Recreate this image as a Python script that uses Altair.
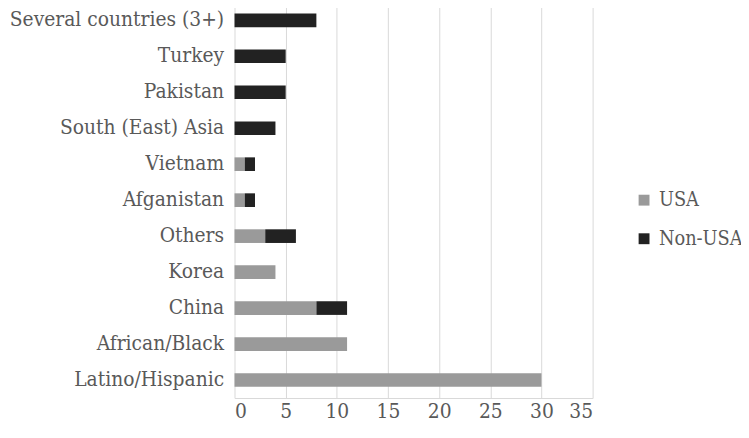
import altair as alt
import pandas as pd

categories = ["Several countries (3+)", "Turkey", "Pakistan", "South (East) Asia",
              "Vietnam", "Afganistan", "Others", "Korea", "China",
              "African/Black", "Latino/Hispanic"]
usa = [0, 0, 0, 0, 1, 1, 3, 4, 8, 11, 30]
non_usa = [8, 5, 5, 4, 1, 1, 3, 0, 3, 0, 0]
series = ["USA", "Non-USA"]

rows = []
for c, u, n in zip(categories, usa, non_usa):
    rows.append({"group": c, "origin": "USA", "value": u, "ord": 0})
    rows.append({"group": c, "origin": "Non-USA", "value": n, "ord": 1})
df = pd.DataFrame(rows)

font = "DejaVu Serif Condensed"
grey = "#595959"

chart = alt.Chart(df).mark_bar().encode(
    y=alt.Y("group:N", sort=categories, title=None,
            scale=alt.Scale(paddingInner=0.62, paddingOuter=0.31),
            axis=alt.Axis(domain=False, ticks=False, labelFontSize=21, labelFont=font,
                          labelColor=grey, labelPadding=11, grid=False, labelLimit=400)),
    x=alt.X("value:Q", title=None, stack="zero",
            scale=alt.Scale(domain=[0, 35], nice=False),
            axis=alt.Axis(values=list(range(0, 36, 5)), labelFontSize=21, labelFont=font,
                          labelColor=grey, ticks=False, domainColor="#d9d9d9",
                          gridColor="#d9d9d9", labelPadding=3)),
    color=alt.Color("origin:N", sort=series,
                    scale=alt.Scale(domain=series, range=["#9a9a9a", "#222222"]),
                    legend=alt.Legend(title=None, orient="none", legendX=404, legendY=190,
                                      symbolType="square", symbolSize=121,
                                      labelFontSize=20, labelFont=font, labelColor=grey,
                                      rowPadding=19, symbolStrokeWidth=0, labelOffset=5)),
    order=alt.Order("ord:Q"),
).properties(
    width=362, height=400,
    autosize=alt.AutoSizeParams(type="none"),
    padding={"top": -8, "left": 229, "right": 150, "bottom": 22},
).configure_view(stroke=None)

chart.save("out.html", embed_options={"renderer": "svg", "actions": False})
